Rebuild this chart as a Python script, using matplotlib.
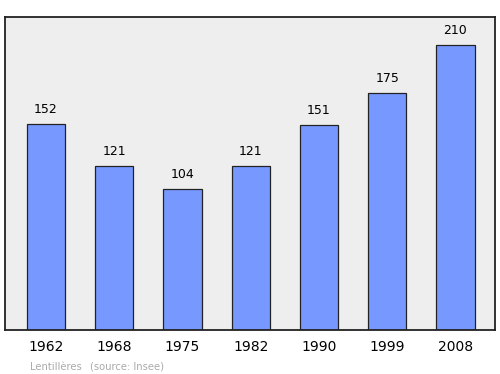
import matplotlib
matplotlib.use("Agg")
import matplotlib.pyplot as plt

years = ["1962", "1968", "1975", "1982", "1990", "1999", "2008"]
population = [152, 121, 104, 121, 151, 175, 210]
commune = "Lentillères"
source = "(source: Insee)"

fig = plt.figure(figsize=(5, 3.74), dpi=100)
ax = fig.add_axes([0.01, 0.1176, 0.98, 0.837])
ax.set_facecolor("#eeeeee")

x = range(len(years))
ax.bar(x, population, width=0.56, color="#7799ff", edgecolor="#222222", linewidth=0.9)

# valeurs au-dessus des barres
for xi, val in zip(x, population):
    ax.annotate(str(val), xy=(xi, val), xytext=(0, 6), textcoords="offset points",
                ha="center", va="bottom", fontsize=9)

ax.set_xlim(-0.6, 6.58)
ax.set_ylim(0, 231)
ax.set_xticks(list(x))
ax.set_xticklabels(years, fontsize=10)
ax.tick_params(axis="x", length=0, pad=7)
ax.set_yticks([])
for s in ax.spines.values():
    s.set_color("#222222")
    s.set_linewidth(1.3)

fig.text(0.06, 0.012, commune, fontsize=7.2, color="#aaaaaa")
fig.text(0.18, 0.012, source, fontsize=7.2, color="#aaaaaa")

fig.savefig("out.png", dpi=100)
